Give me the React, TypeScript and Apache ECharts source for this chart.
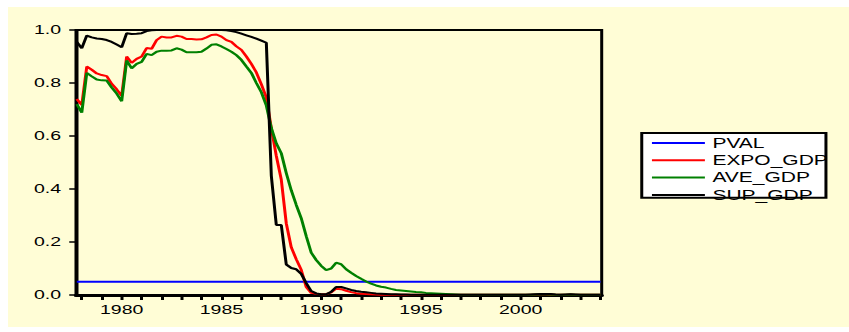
import React, { useEffect, useRef } from "react";
import * as echarts from "echarts";

// Quarterly observations, 1977Q4 .. 2004Q1
const quarters: number[] = [];
for (let i = 0; i < 106; i++) quarters.push(1977.75 + i * 0.25);

const seriesNames = ["PVAL", "EXPO_GDP", "AVE_GDP", "SUP_GDP"];
const seriesColors = ["#0000FF", "#FF0000", "#008000", "#000000"];

const pvalLevel = 0.05;

const expoGdp = [
  0.74, 0.717, 0.862, 0.85, 0.836, 0.83, 0.826, 0.797, 0.776, 0.752,
  0.9, 0.876, 0.891, 0.9, 0.932, 0.929, 0.962, 0.975, 0.972, 0.972,
  0.978, 0.975, 0.966, 0.966, 0.964, 0.965, 0.972, 0.981, 0.983, 0.975,
  0.962, 0.955, 0.938, 0.925, 0.9, 0.872, 0.84, 0.795, 0.745, 0.63,
  0.525, 0.435, 0.27, 0.18, 0.135, 0.095, 0.03, 0.008, 0.005, 0.003,
  0.003, 0.01, 0.024, 0.022, 0.016, 0.011, 0.007, 0.005, 0.004, 0.003,
  0.002, 0.001, 0.001, 0.001, 0.001, 0.001, 0.001, 0.001, 0.001, 0.001,
  0.001, 0.001, 0.001, 0.001, 0.001, 0.001, 0.001, 0.001, 0.001, 0.001,
  0.001, 0.001, 0.001, 0.001, 0.001, 0.001, 0.001, 0.001, 0.001, 0.001,
  0.001, 0.001, 0.002, 0.003, 0.003, 0.002, 0.001, 0.001, 0.001, 0.002,
  0.001, 0.001, 0.001, 0.001, 0.001, 0.001,
];

const aveGdp = [
  0.72, 0.688, 0.838, 0.825, 0.813, 0.81, 0.809, 0.783, 0.76, 0.731,
  0.885, 0.855, 0.872, 0.88, 0.91, 0.905, 0.918, 0.922, 0.922, 0.923,
  0.931, 0.926, 0.916, 0.916, 0.916, 0.918, 0.93, 0.944, 0.946, 0.938,
  0.928, 0.918, 0.905, 0.887, 0.862, 0.838, 0.8, 0.765, 0.715, 0.63,
  0.572, 0.535, 0.46, 0.395, 0.34, 0.29, 0.222, 0.16, 0.132, 0.11,
  0.094, 0.1, 0.122, 0.116, 0.097, 0.084, 0.072, 0.061, 0.051, 0.043,
  0.036, 0.031, 0.028, 0.023, 0.019, 0.017, 0.015, 0.013, 0.011, 0.01,
  0.008, 0.007, 0.006, 0.005, 0.004, 0.003, 0.002, 0.001, 0.001, 0.001,
  0.001, 0.001, 0.001, 0.001, 0.001, 0.001, 0.001, 0.001, 0.001, 0.001,
  0.001, 0.001, 0.002, 0.003, 0.003, 0.002, 0.001, 0.001, 0.001, 0.002,
  0.001, 0.001, 0.001, 0.001, 0.001, 0.001,
];

const supGdp = [
  0.955, 0.931, 0.979, 0.972, 0.968, 0.966, 0.962, 0.955, 0.945, 0.935,
  0.988, 0.985, 0.986, 0.988, 0.996, 0.999, 1.0, 1.0, 1.0, 1.0,
  1.0, 1.0, 1.0, 1.0, 1.0, 1.0, 1.0, 1.0, 1.0, 1.0,
  0.999, 0.996, 0.992, 0.986, 0.98, 0.974, 0.967, 0.96, 0.952, 0.45,
  0.264, 0.264, 0.115, 0.102, 0.097, 0.08, 0.045, 0.015, 0.006, 0.003,
  0.003, 0.012, 0.03, 0.03, 0.025, 0.019, 0.015, 0.012, 0.01, 0.008,
  0.006, 0.005, 0.004, 0.003, 0.003, 0.002, 0.002, 0.001, 0.001, 0.001,
  0.001, 0.001, 0.001, 0.001, 0.001, 0.001, 0.001, 0.001, 0.001, 0.001,
  0.001, 0.001, 0.001, 0.001, 0.001, 0.001, 0.001, 0.001, 0.001, 0.001,
  0.001, 0.002, 0.003, 0.004, 0.004, 0.004, 0.002, 0.001, 0.002, 0.003,
  0.002, 0.001, 0.001, 0.001, 0.001, 0.001,
];

const xTickValues = [
  1978, 1979, 1980, 1981, 1982, 1983, 1984, 1985, 1986, 1987, 1988, 1989,
  1990, 1991, 1992, 1993, 1994, 1995, 1996, 1997, 1998, 1999, 2000, 2001,
  2002, 2003, 2004,
];
const xLabelValues = [1980, 1985, 1990, 1995, 2000];

const BG = "#FFFDD6";
const FONT = "'Liberation Sans', Arial, Helvetica, sans-serif";

export default function App() {
  const ref = useRef<HTMLDivElement>(null);

  useEffect(() => {
    if (!ref.current) return;
    const chart = echarts.init(ref.current, null, { renderer: "svg" });
    const pair = (vals: number[]) => quarters.map((q, i) => [q, vals[i]]);
    const lineSeries = (name: string, color: string, data: number[][]) => ({
      name,
      type: "line",
      data,
      showSymbol: false,
      symbol: "none",
      clip: true,
      color,
      lineStyle: { color, width: 2 },
      emphasis: { disabled: true },
    });
    chart.setOption({
      animation: false,
      backgroundColor: BG,
      textStyle: { fontFamily: FONT, color: "#000" },
      grid: {
        left: 45.33,
        top: 23,
        width: 350.47,
        height: 265,
        show: true,
        borderColor: "#000",
        borderWidth: 2,
        backgroundColor: "transparent",
      },
      legend: {
        data: seriesNames,
        orient: "vertical",
        left: 429.3,
        top: 129,
        padding: 0,
        itemGap: 3.3,
        itemWidth: 35.3,
        itemHeight: 2,
        icon: "rect",
        selectedMode: false,
        textStyle: { fontFamily: FONT, fontSize: 14, lineHeight: 14, color: "#000" },
        z: 5,
      },
      graphic: [
        {
          type: "rect",
          z: 1,
          shape: { x: 422.5, y: 126, width: 122.8, height: 64.7 },
          style: { fill: "#FFFFFF", stroke: "#000000", lineWidth: 2 },
        },
      ],
      xAxis: {
        type: "value",
        min: 1977.71,
        max: 2004.06,
        axisLine: { show: true, onZero: false, lineStyle: { color: "#000", width: 3 } },
        axisTick: {
          show: true,
          inside: false,
          length: 5,
          customValues: xTickValues,
          lineStyle: { color: "#000", width: 2 },
        },
        axisLabel: {
          customValues: xLabelValues,
          formatter: (v: number) => String(Math.round(v)),
          fontSize: 13,
          fontFamily: FONT,
          color: "#000",
          margin: 8,
        },
        splitLine: { show: false },
      },
      yAxis: {
        type: "value",
        min: 0,
        max: 1,
        interval: 0.2,
        axisLine: { show: true, lineStyle: { color: "#000", width: 2 } },
        axisTick: { show: true, inside: false, length: 4.5, lineStyle: { color: "#000", width: 1.5 } },
        axisLabel: {
          formatter: (v: number) => v.toFixed(1),
          fontSize: 13,
          fontFamily: FONT,
          color: "#000",
          margin: 10,
        },
        splitLine: { show: false },
      },
      series: [
        lineSeries(seriesNames[0], seriesColors[0], quarters.map((q) => [q, pvalLevel])),
        lineSeries(seriesNames[1], seriesColors[1], pair(expoGdp)),
        lineSeries(seriesNames[2], seriesColors[2], pair(aveGdp)),
        lineSeries(seriesNames[3], seriesColors[3], pair(supGdp)),
      ],
    });
    return () => chart.dispose();
  }, []);

  return (
    <div
      style={{
        position: "absolute",
        left: 8,
        top: 7,
        width: 841,
        height: 320,
        overflow: "hidden",
        background: BG,
      }}
    >
      <div
        ref={ref}
        style={{
          width: 560,
          height: 320,
          transform: "scaleX(1.5)",
          transformOrigin: "0 0",
        }}
      />
    </div>
  );
}
